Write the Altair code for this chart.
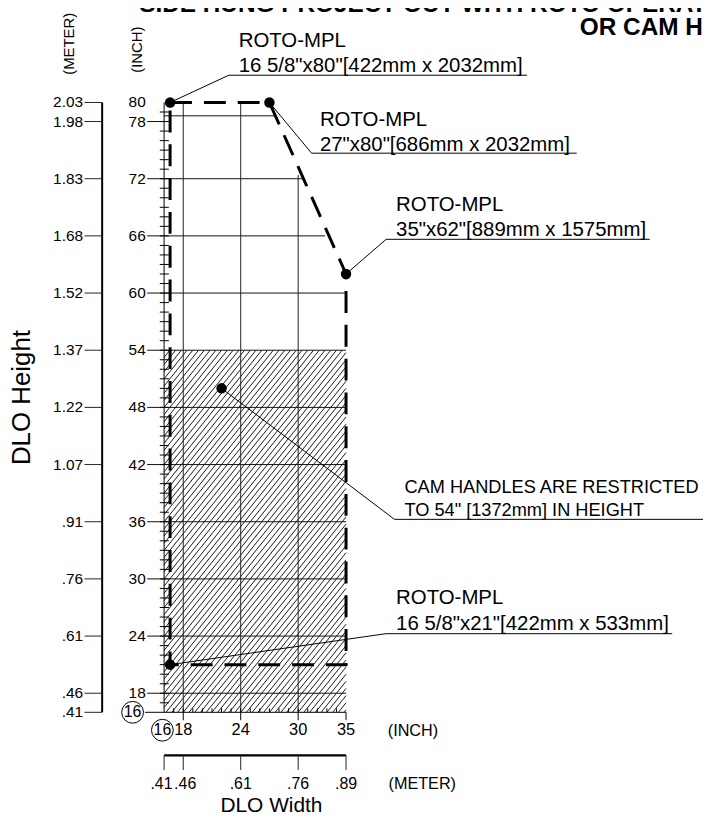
import altair as alt
import pandas as pd

# ------------------------------------------------------------------ data
# Operating envelope (inches) through the four ROTO-MPL limit sizes
env_x = [16.625, 27, 35, 35, 16.625, 16.625]
env_y = [80, 80, 62, 21, 21, 80]

# Callout anchor dots
dot_x = [16.625, 27, 35, 22, 16.625]
dot_y = [80, 80, 62, 50, 21]

# Callout texts
call_line1 = ["ROTO-MPL", "ROTO-MPL", "ROTO-MPL", "CAM HANDLES ARE RESTRICTED", "ROTO-MPL"]
call_line2 = ['16 5/8"x80"[422mm x 2032mm]', '27"x80"[686mm x 2032mm]',
              '35"x62"[889mm x 1575mm]', 'TO 54" [1372mm] IN HEIGHT',
              '16 5/8"x21"[422mm x 533mm]']
call_kind = ["roto", "roto", "roto", "cam", "roto"]
# leader elbow, underline end and text anchors (chart units = inches)
call_elbow_x = [22.75, 31.40, 39.19, 40.06, 39.16]
call_elbow_y = [82.86, 74.68, 65.64, 36.25, 24.25]
call_end_x = [53.90, 59.09, 66.71, 72.70, 69.06]
call_text_x = [23.79, 32.27, 40.23, 41.10, 40.23]
call_base1_y = [85.78, 77.57, 68.59, 39.06, 27.38]
call_base2_y = [83.20, 74.93, 65.99, 36.56, 24.69]

# Cam-handle restricted zone (hatched)
zone_x = [16, 35]
zone_y = [16, 54]

# Inch axes
inch_y_labels = [80, 78, 72, 66, 60, 54, 48, 42, 36, 30, 24, 18]
inch_y_major = [78, 72, 66, 60, 54, 48, 42, 36, 30, 24, 18]
inch_x_labels = [18, 24, 30, 35]

# Meter axes
meter_y_pos = [80, 78, 72, 66, 60, 54, 48, 42, 36, 30, 24, 18, 16]
meter_y_text = ["2.03", "1.98", "1.83", "1.68", "1.52", "1.37", "1.22", "1.07",
                ".91", ".76", ".61", ".46", ".41"]
meter_x_pos = [16, 18, 24, 30, 35]
meter_x_text = [".41", ".46", ".61", ".76", ".89"]
meter_x_label_pos = [15.72, 18.2, 24, 30, 35]

# Grid
grid_h_y = [78.6, 72, 66, 60, 54, 48, 42, 36, 30, 24, 18]
grid_h_end = [27.7, 30.7, 32.8, 35, 35, 35, 35, 35, 35, 35, 35]
grid_v_x = [18, 24, 30]
grid_v_end = [80, 80, 72.4]

# Titles
title_text = ["SIDE HUNG PROJECT OUT WITH ROTO OPERATOR", "OR CAM HANDLES"]
title_x = [13.40, 59.41]
title_y = [89.50, 87.03]

FONT = "Liberation Sans"
XS = alt.Scale(domain=[-0.303, 72.28], nice=False, zero=False)
YS = alt.Scale(domain=[5.36, 89.673], nice=False, zero=False)


def enc_xy(ch):
    return ch.encode(x=alt.X("x:Q", scale=XS, axis=None),
                     y=alt.Y("y:Q", scale=YS, axis=None))


def rules(df, **style):
    return alt.Chart(df).mark_rule(**style).encode(
        x=alt.X("x:Q", scale=XS, axis=None), x2="x2:Q",
        y=alt.Y("y:Q", scale=YS, axis=None), y2="y2:Q")


def texts(df, **style):
    st = dict(font=FONT, color="black")
    st.update(style)
    return alt.Chart(df).mark_text(**st).encode(
        x=alt.X("x:Q", scale=XS, axis=None),
        y=alt.Y("y:Q", scale=YS, axis=None), text="t:N")


layers = []

# ---- hatch of restricted zone
s = 1.25
hatch = alt.Chart(alt.sequence(start=zone_x[0] - 40, stop=zone_x[1], step=0.6, as_="c")).transform_calculate(
    x=f"max(datum.c, {zone_x[0]})",
    x2=f"min(datum.c + {(zone_y[1] - zone_y[0]) / s}, {zone_x[1]})",
).transform_calculate(
    y=f"{zone_y[0]} + {s} * (datum.x - datum.c)",
    y2=f"{zone_y[0]} + {s} * (datum.x2 - datum.c)",
).transform_filter("datum.x2 > datum.x")
layers.append(hatch.mark_rule(color="#1a1a1a", strokeWidth=1).encode(
    x=alt.X("x:Q", scale=XS, axis=None), x2="x2:Q",
    y=alt.Y("y:Q", scale=YS, axis=None), y2="y2:Q"))

# ---- grid
gh = pd.DataFrame({"y": grid_h_y, "y2": grid_h_y, "x": [16] * len(grid_h_y), "x2": grid_h_end})
gv = pd.DataFrame({"x": grid_v_x, "x2": grid_v_x, "y": [16] * len(grid_v_x), "y2": grid_v_end})
layers.append(rules(gh, color="#111111", strokeWidth=1))
layers.append(rules(gv, color="#222222", strokeWidth=1))

# ---- inch axes lines
axl = pd.DataFrame({"x": [16, 14.0], "x2": [16, 35], "y": [16, 16], "y2": [80, 16]})
layers.append(rules(axl, color="black", strokeWidth=1))
# major ticks left
mt = pd.DataFrame({"y": inch_y_major, "y2": inch_y_major,
                   "x": [14.23] * len(inch_y_major), "x2": [16] * len(inch_y_major)})
layers.append(rules(mt, color="#111111", strokeWidth=1))
# minor ticks left (every inch)
mnl = alt.Chart(alt.sequence(start=17, stop=80, step=1, as_="y")).transform_calculate(
    x="15.55", x2="16.5", y2="datum.y")
layers.append(mnl.mark_rule(color="black", strokeWidth=1).encode(
    x=alt.X("x:Q", scale=XS, axis=None), x2="x2:Q",
    y=alt.Y("y:Q", scale=YS, axis=None), y2="y2:Q"))
# minor ticks bottom (every inch)
mnb = alt.Chart(alt.sequence(start=17, stop=35, step=1, as_="x")).transform_calculate(
    y="16", y2="16.42", x2="datum.x")
layers.append(mnb.mark_rule(color="black", strokeWidth=1).encode(
    x=alt.X("x:Q", scale=XS, axis=None), x2="x2:Q",
    y=alt.Y("y:Q", scale=YS, axis=None), y2="y2:Q"))
# major ticks bottom
mtb = pd.DataFrame({"x": inch_x_labels, "x2": inch_x_labels,
                    "y": [15.17] * len(inch_x_labels), "y2": [16] * len(inch_x_labels)})
layers.append(rules(mtb, color="black", strokeWidth=1))

# ---- meter axes
mya = pd.DataFrame({"x": [9.53], "x2": [9.53], "y": [16], "y2": [80]})
layers.append(rules(mya, color="black", strokeWidth=2))
myt = pd.DataFrame({"y": meter_y_pos, "y2": meter_y_pos,
                    "x": [7.69] * len(meter_y_pos), "x2": [9.53] * len(meter_y_pos)})
layers.append(rules(myt, color="#222222", strokeWidth=1))
mxa = pd.DataFrame({"x": [16], "x2": [35], "y": [11.48], "y2": [11.48]})
layers.append(rules(mxa, color="black", strokeWidth=2.5))
mxt = pd.DataFrame({"x": meter_x_pos, "x2": meter_x_pos,
                    "y": [9.95] * len(meter_x_pos), "y2": [11.48] * len(meter_x_pos)})
layers.append(rules(mxt, color="#222222", strokeWidth=1))

# ---- envelope (dashed)
env = pd.DataFrame({"x": env_x, "y": env_y, "o": list(range(len(env_x)))})
layers.append(alt.Chart(env).mark_line(color="black", strokeWidth=3, strokeDash=[22, 12]).encode(
    x=alt.X("x:Q", scale=XS, axis=None), y=alt.Y("y:Q", scale=YS, axis=None), order="o:Q"))

# ---- leader lines
rows = []
for i in range(len(dot_x)):
    rows += [dict(id=i, o=0, x=dot_x[i], y=dot_y[i]),
             dict(id=i, o=1, x=call_elbow_x[i], y=call_elbow_y[i]),
             dict(id=i, o=2, x=call_end_x[i], y=call_elbow_y[i])]
lead = pd.DataFrame(rows)
layers.append(alt.Chart(lead).mark_line(color="black", strokeWidth=1).encode(
    x=alt.X("x:Q", scale=XS, axis=None), y=alt.Y("y:Q", scale=YS, axis=None),
    detail="id:N", order="o:Q"))

# ---- dots
dots = pd.DataFrame({"x": dot_x, "y": dot_y})
layers.append(enc_xy(alt.Chart(dots).mark_point(filled=True, color="black", size=110, opacity=1, shape="circle")))

# ---- circled 16 labels
circ = pd.DataFrame({"x": [12.71, 15.82], "y": [16, 14.12], "t": ["16", "16"]})
layers.append(enc_xy(alt.Chart(circ).mark_point(filled=False, color="black", size=480,
                                                strokeWidth=1, opacity=1, shape="circle")))
layers.append(texts(circ, fontSize=16, align="center", baseline="middle"))

# ---- tick labels
lyl = pd.DataFrame({"x": [14.08] * len(inch_y_labels), "y": inch_y_labels,
                    "t": [str(v) for v in inch_y_labels]})
layers.append(texts(lyl, fontSize=15.5, align="right", baseline="middle"))
lxl = pd.DataFrame({"x": inch_x_labels, "y": [14.1] * len(inch_x_labels),
                    "t": [str(v) for v in inch_x_labels]})
layers.append(texts(lxl, fontSize=16.5, align="center", baseline="middle"))
myl = pd.DataFrame({"x": [7.54] * len(meter_y_pos), "y": meter_y_pos, "t": meter_y_text})
layers.append(texts(myl, fontSize=15.5, align="right", baseline="middle"))
mxl = pd.DataFrame({"x": meter_x_label_pos, "y": [8.52] * len(meter_x_pos), "t": meter_x_text})
layers.append(texts(mxl, fontSize=16, align="center", baseline="middle"))

# ---- unit captions
cap_h = pd.DataFrame({"x": [39.36, 39.44], "y": [14.02, 8.49], "t": ["(INCH)", "(METER)"]})
layers.append(texts(cap_h, fontSize=16.3, align="left", baseline="middle"))
cap_v = pd.DataFrame({"x": [13.20, 6.08], "y": [85.55, 86.16], "t": ["(INCH)", "(METER)"]})
layers.append(texts(cap_v, fontSize=15, align="center", baseline="middle", angle=270))

# ---- axis titles
layers.append(texts(pd.DataFrame({"x": [27.21], "y": [6.2], "t": ["DLO Width"]}),
                    fontSize=21, align="center", baseline="middle"))
layers.append(texts(pd.DataFrame({"x": [1.15], "y": [49.03], "t": ["DLO Height"]}),
                    fontSize=26, align="center", baseline="middle", angle=270))

# ---- callout texts
ct = pd.DataFrame({
    "x": call_text_x * 2,
    "y": call_base1_y + call_base2_y,
    "t": call_line1 + call_line2,
    "kind": call_kind * 2,
})
layers.append(texts(ct, fontSize=20.5, align="left", baseline="alphabetic").transform_filter("datum.kind == 'roto'"))
layers.append(texts(ct, fontSize=18.3, align="left", baseline="alphabetic").transform_filter("datum.kind == 'cam'"))

# ---- title
tt = pd.DataFrame({"x": title_x, "y": title_y, "t": title_text})
layers.append(texts(tt, fontSize=24.5, fontWeight="bold", align="left", baseline="alphabetic"))

chart = alt.layer(*layers).properties(
    width=699, height=808,
    autosize=alt.AutoSizeParams(type="none"),
    padding=0,
).configure_view(stroke=None)

chart.save("out.html", embed_options={"renderer": "svg", "actions": False})
